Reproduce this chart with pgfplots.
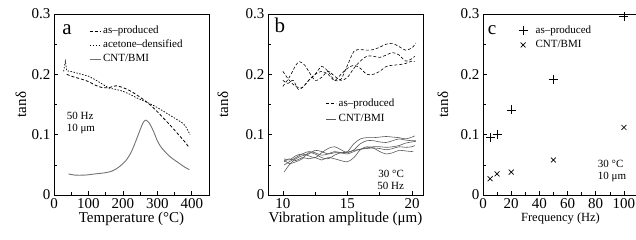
\documentclass[border=0pt]{standalone}
\usepackage{fontspec}
\setmainfont{Liberation Serif}
\usepackage{pgfplots}
\pgfplotsset{compat=1.18}

\pgfplotsset{
  panel/.style={
    scale only axis, width=155pt, height=181pt,
    anchor=south west,
    ymin=0, ymax=0.3, ytick={0,0.1,0.2,0.3}, minor y tick num=1,
    tick align=inside, xtick pos=bottom, ytick pos=left,
    major tick length=4pt, minor tick length=3pt,
    axis line style={line width=0.8pt},
    every tick/.style={line width=0.6pt, black},
    /pgf/number format/assume math mode=true,
    yticklabel style={/pgf/number format/fixed, /pgf/number format/precision=1},
    ticklabel style={font=\fontsize{15}{17}\selectfont},
    every axis x label/.style={at={(axis description cs:0.5,0)}, anchor=center, yshift=-24pt, font=\fontsize{15}{17}\selectfont},
    ylabel={tan\kern0.8ptδ},
    legend cell align=left,
  },
  lineleg/.style={
    legend image code/.code={\draw[##1] (0pt,0pt) -- (#1,0pt);}
  },
  markleg/.style={
    legend image code/.code={\draw[draw=none] (-4.5pt,0pt) -- (10.5pt,0pt); \draw[##1] plot coordinates {(0pt,0pt)};}
  },
}

\begin{document}
\begin{tikzpicture}
\path[use as bounding box] (0,0) rectangle (636pt,240pt);

% ---------------- panel a ----------------
\begin{axis}[panel, at={(54pt,45pt)},
  xmin=0, xmax=450, xtick={0,100,200,300,400}, minor x tick num=1,
  xlabel={Temperature (°C)},
  every axis y label/.style={at={(axis description cs:-0.213,0.5)}, rotate=90, anchor=center, font=\fontsize{15}{17}\selectfont},
  lineleg=11pt,
  legend style={at={(axis cs:93,0.285)}, anchor=north west, draw=none, fill=none,
    font=\fontsize{11}{13}\selectfont, row sep=2.5pt,
    nodes={inner ysep=0.5pt, text height=8pt, text depth=2.5pt}},
]
\addplot[black, line width=0.8pt, dash pattern=on 3pt off 2pt, smooth] coordinates {
(37,0.200) (55,0.196) (80,0.192) (100,0.188) (120,0.182) (140,0.178) (160,0.178)
(180,0.181) (200,0.178) (220,0.173) (240,0.166) (260,0.158) (280,0.149) (300,0.138)
(320,0.126) (340,0.114) (360,0.101) (380,0.088) (393,0.078)};
\addlegendentry{as–produced}
\addplot[black, line width=0.7pt, dash pattern=on 1.5pt off 1.5pt] coordinates {
(28,0.205) (33,0.222) (37,0.206) (55,0.204) (80,0.200) (100,0.197) (120,0.191)
(140,0.184) (160,0.177) (180,0.175) (200,0.172) (220,0.167) (240,0.161) (260,0.156)
(280,0.151) (300,0.145) (320,0.138) (340,0.131) (360,0.124) (374,0.119) (382,0.114) (395,0.100)};
\addlegendentry{acetone–densified}
\addplot[black!55, line width=0.9pt, smooth] coordinates {
(42,0.035) (60,0.033) (90,0.033) (120,0.035) (150,0.037) (170,0.040) (190,0.047)
(210,0.058) (225,0.072) (240,0.093) (250,0.108) (258,0.119) (265,0.124) (272,0.122)
(280,0.116) (290,0.104) (300,0.090) (310,0.080) (325,0.070) (340,0.062) (360,0.054)
(380,0.046) (393,0.042)};
\addlegendentry{CNT/BMI}
\node[font=\fontsize{21}{21}\selectfont] at (axis cs:38,0.274) {a};
\node[anchor=west, align=left, font=\fontsize{11}{12}\selectfont] at (axis cs:27,0.119) {50 Hz\\10 μm};
\end{axis}

% ---------------- panel b ----------------
\begin{axis}[panel, at={(268pt,45pt)},
  xmin=8.85, xmax=20.85, xtick={10,15,20}, minor x tick num=1,
  xlabel={Vibration amplitude (μm)},
  every axis y label/.style={at={(axis description cs:-0.29,0.5)}, rotate=90, anchor=center, font=\fontsize{15}{17}\selectfont},
  lineleg=10pt,
  legend style={at={(axis cs:13.1,0.165)}, anchor=north west, draw=none, fill=none,
    font=\fontsize{11}{13}\selectfont, row sep=4pt,
    nodes={inner ysep=0.5pt, text height=8pt, text depth=2.5pt}},
]
\addplot[black, line width=0.6pt, dash pattern=on 3pt off 2pt, smooth] coordinates {
(10.0,0.205) (10.5,0.190) (11.0,0.180) (11.5,0.178) (12.0,0.190) (12.5,0.200) (13.0,0.213)
(13.5,0.205) (14.0,0.190) (14.5,0.192) (15.0,0.215) (15.5,0.238) (16.0,0.241) (16.5,0.240)
(17.0,0.241) (17.5,0.245) (18.0,0.250) (18.5,0.251) (19.0,0.246) (19.5,0.240) (20.0,0.244) (20.3,0.252)};
\addlegendentry{as–produced}
\addplot[forget plot, black, line width=0.6pt, dash pattern=on 3pt off 2pt, smooth] coordinates {
(10.0,0.180) (10.5,0.195) (11.0,0.215) (11.3,0.221) (11.7,0.215) (12.0,0.205) (12.5,0.190)
(13.0,0.195) (13.5,0.205) (14.0,0.197) (14.5,0.190) (15.0,0.195) (15.5,0.210) (16.0,0.222)
(16.5,0.230) (17.0,0.230) (17.5,0.228) (18.0,0.232) (18.5,0.236) (19.0,0.232) (19.5,0.222)
(20.0,0.226) (20.2,0.230)};
\addplot[forget plot, black, line width=0.6pt, dash pattern=on 3pt off 2pt, smooth] coordinates {
(10.0,0.190) (10.4,0.185) (10.8,0.190) (11.2,0.175) (11.6,0.180) (12.0,0.190) (12.5,0.200)
(13.0,0.205) (13.5,0.200) (14.0,0.190) (14.5,0.200) (15.0,0.210) (15.5,0.215) (16.0,0.210)
(16.5,0.200) (17.0,0.200) (17.5,0.205) (18.0,0.213) (18.5,0.215) (19.0,0.216) (19.5,0.218)
(20.0,0.222) (20.2,0.221)};
\addplot[black!65, line width=0.6pt, smooth] coordinates {
(10.1,0.038) (10.5,0.050) (11.0,0.060) (11.5,0.065) (12.0,0.068) (12.5,0.074) (13.0,0.072)
(13.5,0.068) (14.0,0.070) (14.5,0.070) (15.0,0.072) (15.5,0.085) (16.0,0.093) (16.5,0.095)
(17.0,0.095) (17.5,0.096) (18.0,0.097) (18.5,0.096) (19.0,0.095) (19.5,0.093) (20.0,0.096) (20.2,0.098)};
\addlegendentry{CNT/BMI}
\addplot[forget plot, black!65, line width=0.6pt, smooth] coordinates {
(10.1,0.060) (10.5,0.058) (11.0,0.065) (11.5,0.068) (12.0,0.065) (12.5,0.062) (13.0,0.070)
(13.5,0.077) (14.0,0.080) (14.5,0.075) (15.0,0.070) (15.5,0.075) (16.0,0.085) (16.5,0.090)
(17.0,0.090) (17.5,0.088) (18.0,0.087) (18.5,0.090) (19.0,0.093) (19.5,0.091) (20.0,0.090) (20.3,0.090)};
\addplot[forget plot, black!65, line width=0.6pt, smooth] coordinates {
(10.1,0.058) (10.5,0.052) (11.0,0.055) (11.5,0.060) (12.0,0.070) (12.5,0.068) (13.0,0.062)
(13.5,0.060) (14.0,0.066) (14.5,0.070) (15.0,0.071) (15.5,0.074) (16.0,0.076) (16.5,0.078)
(17.0,0.080) (17.5,0.080) (18.0,0.079) (18.5,0.080) (19.0,0.082) (19.5,0.086) (20.0,0.088) (20.3,0.089)};
\addplot[forget plot, black!65, line width=0.6pt, smooth] coordinates {
(10.1,0.055) (10.5,0.060) (11.0,0.057) (11.5,0.062) (12.0,0.060) (12.5,0.062) (13.0,0.058)
(13.5,0.062) (14.0,0.060) (14.5,0.057) (15.0,0.055) (15.5,0.062) (16.0,0.075) (16.5,0.080)
(17.0,0.078) (17.5,0.072) (18.0,0.068) (18.5,0.070) (19.0,0.074) (19.5,0.073) (20.0,0.072) (20.1,0.072)};
\addplot[forget plot, black!65, line width=0.6pt, smooth] coordinates {
(10.1,0.050) (10.5,0.055) (11.0,0.062) (11.5,0.068) (12.0,0.072) (12.5,0.070) (13.0,0.066)
(13.5,0.068) (14.0,0.072) (14.5,0.070) (15.0,0.068) (15.5,0.072) (16.0,0.076) (16.5,0.077)
(17.0,0.078) (17.5,0.077) (18.0,0.075) (18.5,0.077) (19.0,0.080) (19.5,0.079) (20.0,0.080) (20.2,0.082)};
\node[font=\fontsize{21}{21}\selectfont] at (axis cs:9.77,0.282) {b};
\node[anchor=east, align=right, font=\fontsize{11}{12}\selectfont] at (axis cs:19.65,0.025) {30 °C\\50 Hz};
\end{axis}

% ---------------- panel c ----------------
\begin{axis}[panel, at={(483pt,45pt)},
  xmin=0, xmax=110, xtick={0,20,40,60,80,100}, minor x tick num=1,
  xlabel={Frequency (Hz)},
  xlabel style={font=\fontsize{12.5}{15}\selectfont},
  every axis y label/.style={at={(axis description cs:-0.258,0.5)}, rotate=90, anchor=center, font=\fontsize{15}{17}\selectfont},
  legend style={at={(axis cs:23,0.286)}, anchor=north west, draw=none, fill=none,
    font=\fontsize{11}{13}\selectfont, row sep=3pt,
    nodes={inner ysep=0.5pt, text height=8pt, text depth=2.5pt}},
]
\addplot[only marks, mark=+, mark size=4.5pt, mark options={line width=0.7pt}, black, markleg] coordinates {
(5,0.095) (10,0.101) (20,0.141) (50,0.192) (100,0.296)};
\addlegendentry{as–produced}
\addplot[only marks, mark=x, mark size=3.5pt, mark options={line width=0.7pt}, black, markleg] coordinates {
(5,0.027) (10,0.035) (20,0.038) (50,0.058) (100,0.112)};
\addlegendentry{CNT/BMI}
\node[font=\fontsize{19}{19}\selectfont] at (axis cs:6.4,0.273) {c};
\node[anchor=west, align=left, font=\fontsize{11}{12}\selectfont] at (axis cs:79,0.039) {30 °C\\10 μm};
\end{axis}
\end{tikzpicture}
\end{document}
